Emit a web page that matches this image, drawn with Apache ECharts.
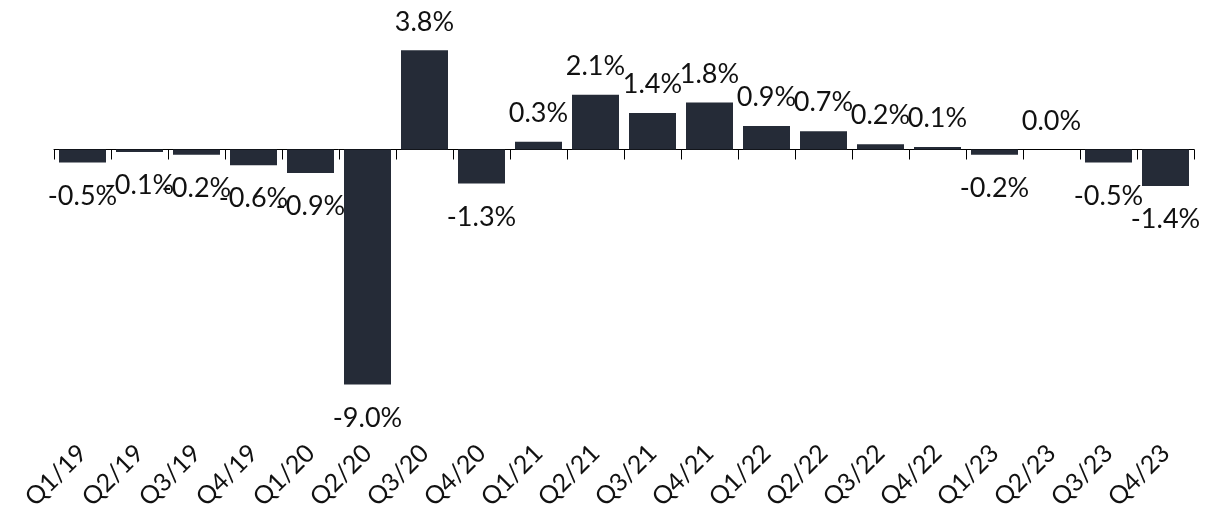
<!DOCTYPE html>
<html>
<head>
<meta charset="utf-8">
<script src="https://cdn.jsdelivr.net/npm/echarts@6/dist/echarts.min.js"></script>
<style>
html,body{margin:0;padding:0;background:#ffffff;}
#chart{width:1222px;height:515px;}
</style>
</head>
<body>
<div id="chart"></div>
<script>
const categories = ['Q1/19','Q2/19','Q3/19','Q4/19','Q1/20','Q2/20','Q3/20','Q4/20','Q1/21','Q2/21','Q3/21','Q4/21','Q1/22','Q2/22','Q3/22','Q4/22','Q1/23','Q2/23','Q3/23','Q4/23'];
const values = [-0.5,-0.1,-0.2,-0.6,-0.9,-9.0,3.8,-1.3,0.3,2.1,1.4,1.8,0.9,0.7,0.2,0.1,-0.2,0.0,-0.5,-1.4];

const FONT = 'Lato, "Open Sans", "Liberation Sans", sans-serif';
const chart = echarts.init(document.getElementById('chart'), null, {renderer: 'canvas'});
const seriesData = values.map(v => ({
  value: v,
  label: {position: v < 0 ? 'bottom' : 'top', distance: v < 0 ? 20 : 15}
}));
chart.setOption({
  animation: false,
  backgroundColor: '#ffffff',
  grid: {left: 54, right: 28, top: 19, bottom: 104.5, outerBoundsMode: 'none'},
  xAxis: [
    {
      type: 'category', data: categories, position: 'bottom',
      axisLine: {show: true, onZero: true, lineStyle: {color: '#000000', width: 1}},
      axisTick: {show: true, length: 10, lineStyle: {color: '#000000', width: 1}},
      axisLabel: {show: false},
      splitLine: {show: false}
    },
    {
      type: 'category', data: categories, position: 'bottom',
      axisLine: {show: false, onZero: false},
      axisTick: {show: false},
      axisLabel: {show: true, rotate: 45, margin: 38.5, fontSize: 25, color: '#111111', fontFamily: FONT},
      splitLine: {show: false}
    }
  ],
  yAxis: {
    type: 'value', min: -10, max: 5, show: false,
    splitLine: {show: false}
  },
  series: [{
    type: 'bar',
    xAxisIndex: 0,
    data: seriesData,
    barWidth: 47,
    itemStyle: {color: '#252b37'},
    label: {
      show: true,
      fontSize: 27,
      fontFamily: FONT,
      color: '#111111',
      formatter: p => p.value.toFixed(1) + '%'
    }
  }]
});
</script>
</body>
</html>
